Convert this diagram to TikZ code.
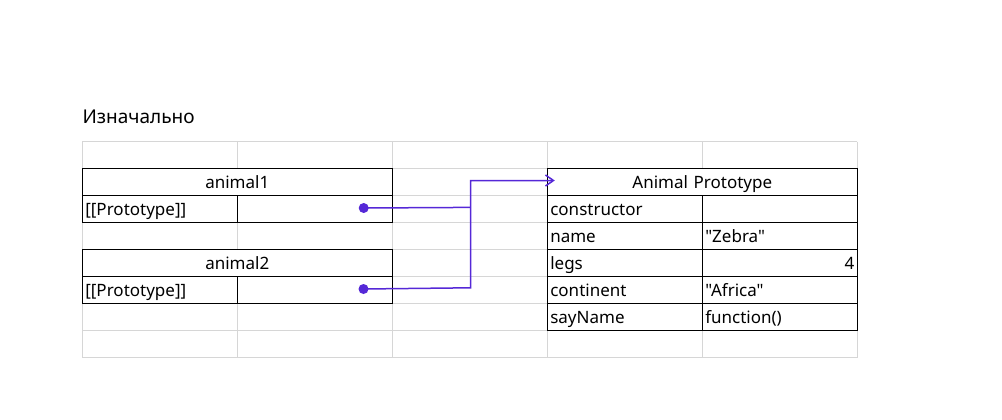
\documentclass[tikz,border=0pt]{standalone}
\usepackage{fontspec}
\setmainfont{Noto Sans}[Ligatures=TeXOff]
\usetikzlibrary{arrows.meta}
\definecolor{conncol}{RGB}{85,40,215}
\definecolor{gridcol}{RGB}{214,214,214}
\begin{document}
\begin{tikzpicture}[x=1pt,y=-1pt,
  cell/.style={draw=black, line width=1pt, fill=white, inner xsep=3pt, inner ysep=0pt,
    minimum height=27pt, text height=14pt, text depth=1pt,
    font=\fontsize{17}{20}\selectfont},
  kcell/.style={cell, text width=149pt, align=left},
  vcell/.style={cell, text width=149pt, align=left},
  rcell/.style={cell, text width=149pt, align=right},
  hcell/.style={cell, text width=304pt, align=center},
  dot/.style={circle, fill=conncol, inner sep=0pt, minimum size=10pt},
  conn/.style={draw=conncol, line width=1.5pt},
  gridline/.style={draw=gridcol, line width=1pt}]
\useasboundingbox (0,0) rectangle (1002,420);
% spreadsheet grid
\foreach \x in {82.3,237.3,392.3,547.3,702.3,857.3}
  \draw[gridline] (\x,141.5) -- (\x,357.5);
\foreach \y in {141.5,168.5,195.5,222.5,249.5,276.5,303.5,330.5,357.5}
  \draw[gridline] (82.3,\y) -- (857.3,\y);
% title
\node[anchor=base west, inner sep=0pt, font=\fontsize{19}{23}\selectfont] (title) at (82.3,123.5) {Изначально};
% animal1
\node[hcell] (a1) at (237.3,182) {animal1};
\node[kcell] (a1k) at (159.8,209) {[[Prototype]]};
\node[vcell] (a1v) at (314.8,209) {};
% animal2
\node[hcell] (a2) at (237.3,263) {animal2};
\node[kcell] (a2k) at (159.8,290) {[[Prototype]]};
\node[vcell] (a2v) at (314.8,290) {};
% Animal Prototype
\node[hcell] (ap) at (702.3,182) {Animal Prototype};
\node[kcell] (pk1) at (624.8,209) {constructor};
\node[vcell] (pv1) at (779.8,209) {};
\node[kcell] (pk2) at (624.8,236) {name};
\node[vcell] (pv2) at (779.8,236) {"Zebra"};
\node[kcell] (pk3) at (624.8,263) {legs};
\node[rcell] (pv3) at (779.8,263) {4};
\node[kcell] (pk4) at (624.8,290) {continent};
\node[vcell] (pv4) at (779.8,290) {"Africa"};
\node[kcell] (pk5) at (624.8,317) {sayName};
\node[vcell] (pv5) at (779.8,317) {function()};
% connectors
\node[dot] (d1) at (363.7,208) {};
\node[dot] (d2) at (363.5,289) {};
\coordinate (e1) at (470.7,207.4);
\coordinate (e2) at (470.7,287.8);
\coordinate (tip) at ([xshift=8pt,yshift=1.5pt]ap.west);
\draw[conn] (d1.center) -- (e1);
\draw[conn, -{Straight Barb[length=8pt,width=11pt]}] (d2.center) -- (e2) -- (e2 |- tip) -- (tip);
\end{tikzpicture}
\end{document}
